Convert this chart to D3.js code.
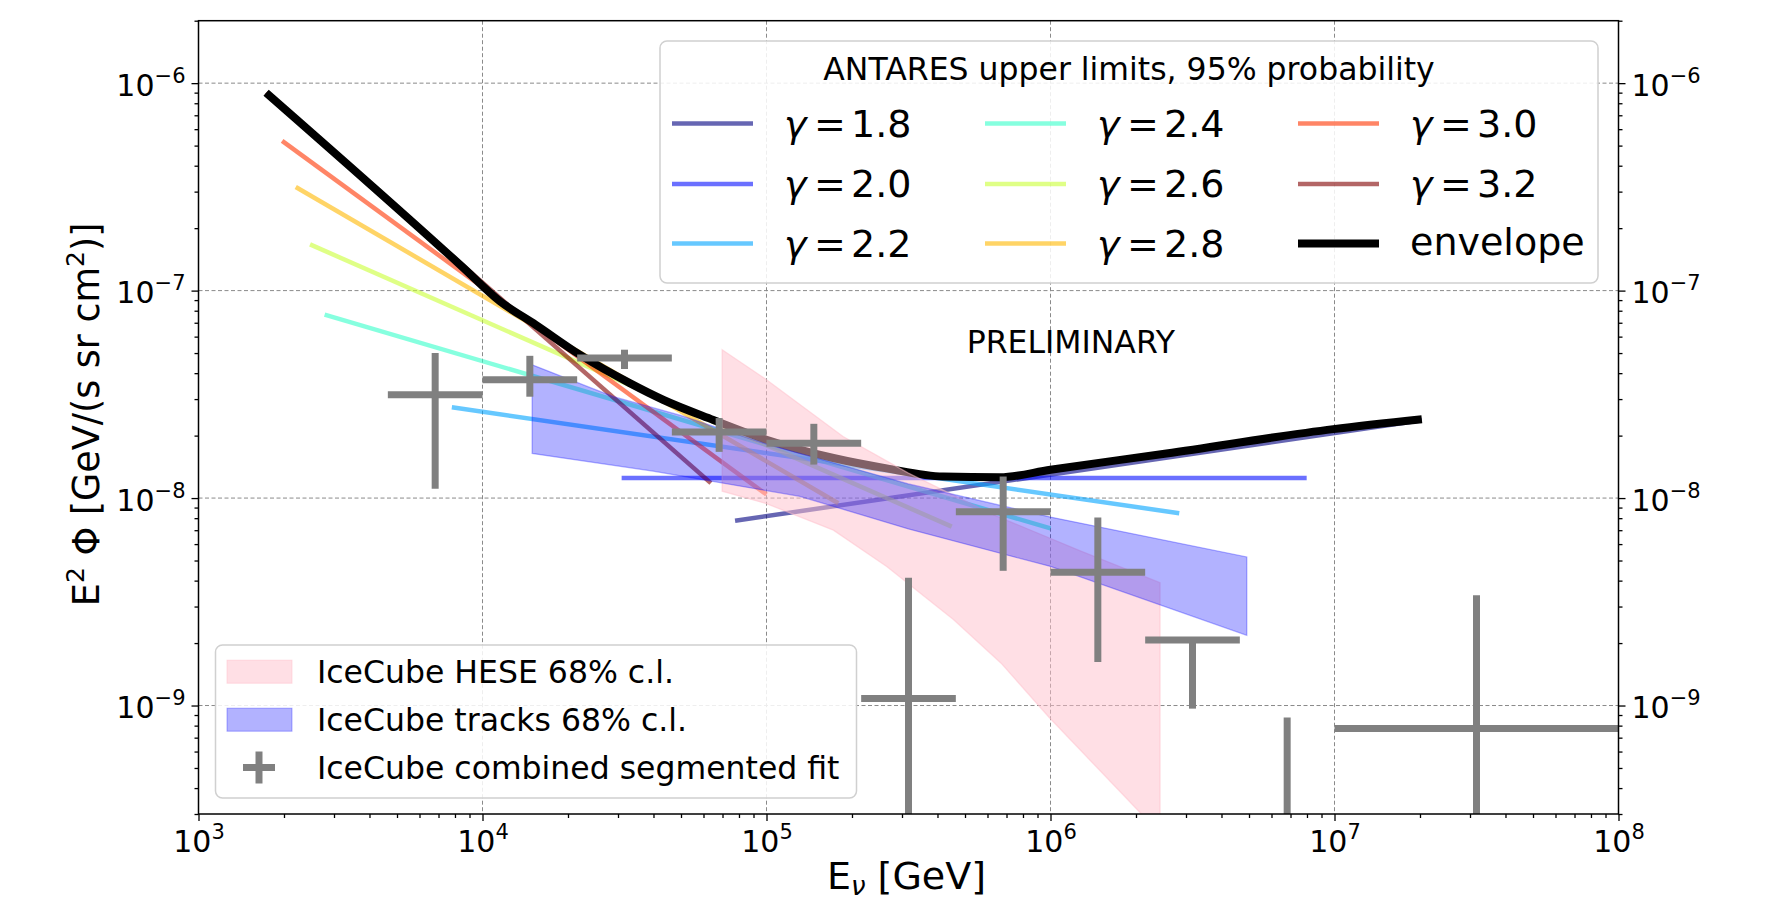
<!DOCTYPE html>
<html>
<head>
<meta charset="utf-8">
<script src="https://cdn.jsdelivr.net/npm/d3@7"></script>
<style>
  body { margin: 0; background: #fff; }
  svg { display: block; font-family: "DejaVu Sans", sans-serif; }
</style>
</head>
<body>
<div id="chart"></div>
<script>
// ANTARES upper limits, one straight segment per spectral index (ends)
const gammas = ["1.8", "2.0", "2.2", "2.4", "2.6", "2.8", "3.0", "3.2"];
const gammaEmin = [77500, 30900, 7800, 2780, 2470, 2200, 1970, 1730];
const gammaEmax = [2.03e7, 7.98e6, 2.84e6, 1.0e6, 4.49e5, 1.79e5, 1.0e5, 63700];
const gammaFluxMin = [7.78e-9, 1.25e-8, 2.74e-8, 7.66e-8, 1.67e-7, 3.16e-7, 5.27e-7, 9.0e-7];
const gammaFluxMax = [2.37e-8, 1.25e-8, 8.45e-9, 7.14e-9, 7.28e-9, 9.44e-9, 1.04e-8, 1.18e-8];
const gammaColors = ["#000080", "#0810ff", "#00a4ff", "#36ffc9", "#c9ff36", "#ffb800", "#ff3300", "#800000"];

// envelope
const envE = [1730, 8500, 11500, 15400, 22000, 33000, 43400, 65000, 1.0e5, 1.72e5, 2.65e5, 4.19e5, 6.64e5, 1.0e6, 2.56e6, 9.9e6, 2.03e7];
const envFlux = [9.0e-7, 1.3e-7, 8.9e-8, 6.84e-8, 4.91e-8, 3.58e-8, 2.97e-8, 2.38e-8, 1.91e-8, 1.56e-8, 1.39e-8, 1.27e-8, 1.26e-8, 1.37e-8, 1.64e-8, 2.15e-8, 2.40e-8];

// IceCube HESE 68% band
const heseUpE = [69800, 1.0e5, 1.86e5, 3.16e5, 6.31e5, 1.26e6, 2.43e6];
const heseUpF = [5.19e-8, 3.72e-8, 1.98e-8, 1.32e-8, 8.3e-9, 5.6e-9, 3.91e-9];
const heseLoE = [69800, 1.0e5, 1.72e5, 2.65e5, 4.55e5, 6.7e5, 9.86e5, 2.09e6, 2.43e6];
const heseLoF = [1.08e-8, 9.4e-9, 7.0e-9, 4.68e-9, 2.6e-9, 1.6e-9, 8.8e-10, 3.0e-10, 2.4e-10];

// IceCube tracks 68% band
const trkUpE = [14960, 28900, 49500, 1.0e5, 3.16e5, 1.0e6, 4.91e6];
const trkUpF = [4.39e-8, 3.08e-8, 2.51e-8, 1.82e-8, 1.17e-8, 8.1e-9, 5.2e-9];
const trkLoE = [14960, 39800, 1.31e5, 3.16e5, 1.0e6, 4.91e6];
const trkLoF = [1.64e-8, 1.35e-8, 1.02e-8, 7.1e-9, 4.68e-9, 2.18e-9];

// IceCube combined segmented fit
const segE = [6813, 14678, 31623, 68129, 146780, 316228, 681292, 1.4678e6, 3.1623e6, 6.813e6, 3.1623e7];
const segElo = [4642, 1e4, 21544, 46416, 1e5, 215443, 464159, 1e6, 2154435, 4641589, 1e7];
const segEhi = [1e4, 21544, 46416, 1e5, 215443, 464159, 1e6, 2154435, 4641589, 1e7, 1e8];
const segFlux = [3.15e-8, 3.72e-8, 4.73e-8, 2.08e-8, 1.84e-8, 1.08e-9, 8.59e-9, 4.39e-9, 2.07e-9, 2.0e-10, 7.75e-10];
const segFluxLo = [1.11e-8, 3.08e-8, 4.19e-8, 1.67e-8, 1.45e-8, 1e-11, 4.46e-9, 1.62e-9, 9.66e-10, 1e-11, 1e-11];
const segFluxHi = [5.0e-8, 4.85e-8, 5.19e-8, 2.43e-8, 2.28e-8, 4.13e-9, 1.27e-8, 8.07e-9, 2.12e-9, 8.76e-10, 3.4e-9];

const xMajor = [1e3, 1e4, 1e5, 1e6, 1e7, 1e8];
const xMajorExp = ["3", "4", "5", "6", "7", "8"];
const yMajor = [1e-9, 1e-8, 1e-7, 1e-6];
const yMajorExp = ["\u22129", "\u22128", "\u22127", "\u22126"];

const W = 1781, H = 900;
const L = 198.5, R = 1618.5, T = 20.7, B = 814;

const x = d3.scaleLog().domain([1e3, 1e8]).range([L, R]);
const y = d3.scaleLog().domain([3e-10, 2e-6]).range([B, T]);

const svg = d3.select("#chart").append("svg").attr("width", W).attr("height", H);

svg.append("clipPath").attr("id", "plotclip")
  .append("rect").attr("x", L).attr("y", T).attr("width", R - L).attr("height", B - T);

// grid
const grid = svg.append("g").attr("stroke", "#8a8a8a").attr("stroke-width", 1).attr("stroke-dasharray", "4,2.5");
grid.selectAll(".gx").data(xMajor.slice(1, -1)).enter().append("line")
  .attr("x1", d => x(d)).attr("x2", d => x(d)).attr("y1", T).attr("y2", B);
grid.selectAll(".gy").data(yMajor).enter().append("line")
  .attr("x1", L).attr("x2", R).attr("y1", d => y(d)).attr("y2", d => y(d));

const plot = svg.append("g").attr("clip-path", "url(#plotclip)");
const line = d3.line().x(d => x(d[0])).y(d => y(d[1]));

// gamma lines
gammas.forEach(function(g, i) {
  plot.append("path")
    .attr("d", line([[gammaEmin[i], gammaFluxMin[i]], [gammaEmax[i], gammaFluxMax[i]]]))
    .attr("fill", "none")
    .attr("stroke", gammaColors[i])
    .attr("stroke-opacity", 0.6)
    .attr("stroke-width", 4.5);
});

// envelope
plot.append("path")
  .attr("d", d3.line().x(d => x(d[0])).y(d => y(d[1])).curve(d3.curveMonotoneX)(envE.map((e, i) => [e, envFlux[i]])))
  .attr("fill", "none").attr("stroke", "#000").attr("stroke-width", 8)
  .attr("stroke-linejoin", "round");

// bands
function band(upE, upF, loE, loF) {
  const pts = upE.map((e, i) => [e, upF[i]]).concat(loE.map((e, i) => [e, loF[i]]).reverse());
  return line(pts) + "Z";
}
plot.append("path")
  .attr("d", band(heseUpE, heseUpF, heseLoE, heseLoF))
  .attr("fill", "#ffc0cb").attr("fill-opacity", 0.5)
  .attr("stroke", "#ffc0cb").attr("stroke-opacity", 0.5).attr("stroke-width", 1.3);
plot.append("path")
  .attr("d", band(trkUpE, trkUpF, trkLoE, trkLoF))
  .attr("fill", "#0000ff").attr("fill-opacity", 0.3)
  .attr("stroke", "#0000ff").attr("stroke-opacity", 0.3).attr("stroke-width", 1.3);

// segmented fit crosses
const seg = plot.append("g").attr("stroke", "#808080").attr("stroke-width", 7);
segE.forEach(function(e, i) {
  seg.append("line").attr("x1", x(segElo[i])).attr("x2", x(segEhi[i]))
    .attr("y1", y(segFlux[i])).attr("y2", y(segFlux[i]));
  seg.append("line").attr("x1", x(e)).attr("x2", x(e))
    .attr("y1", y(segFluxLo[i])).attr("y2", y(segFluxHi[i]));
});

// frame
svg.append("rect").attr("x", L).attr("y", T).attr("width", R - L).attr("height", B - T)
  .attr("fill", "none").attr("stroke", "#000").attr("stroke-width", 1.5);

// axes
const isMajor = v => Math.abs(Math.log10(v) - Math.round(Math.log10(v))) < 1e-6;
const xMinor = x.ticks().filter(v => !isMajor(v));
const yMinor = y.ticks().filter(v => !isMajor(v));

function styleAxis(g) {
  g.select(".domain").remove();
  g.selectAll(".tick line").attr("stroke", "#000").attr("stroke-width", 1.3);
}
function powText(t, exp) {
  t.text(null);
  t.append("tspan").text("10");
  t.append("tspan").attr("font-size", 21).attr("dy", -13).text(exp);
}

const gxMin = svg.append("g").attr("transform", `translate(0,${B})`)
  .call(d3.axisBottom(x).tickValues(xMinor).tickSize(4).tickFormat(""));
styleAxis(gxMin);
const gx = svg.append("g").attr("transform", `translate(0,${B})`)
  .call(d3.axisBottom(x).tickValues(xMajor).tickSize(7).tickFormat(""));
styleAxis(gx);
gx.selectAll(".tick text").each(function(d, i) {
  const t = d3.select(this).attr("y", 38).attr("dy", 0)
    .attr("font-size", 30).attr("fill", "#000").attr("font-family", "DejaVu Sans");
  powText(t, xMajorExp[i]);
});

[["left", L], ["right", R]].forEach(function(side) {
  const ax = side[0] === "left" ? d3.axisLeft : d3.axisRight;
  const gmin = svg.append("g").attr("transform", `translate(${side[1]},0)`)
    .call(ax(y).tickValues(yMinor).tickSize(4).tickFormat(""));
  styleAxis(gmin);
  const gmaj = svg.append("g").attr("transform", `translate(${side[1]},0)`)
    .call(ax(y).tickValues(yMajor).tickSize(7).tickFormat(""));
  styleAxis(gmaj);
  gmaj.selectAll(".tick text").each(function(d, i) {
    const t = d3.select(this).attr("dy", 0).attr("y", 12)
      .attr("x", side[0] === "left" ? -13 : 13)
      .attr("font-size", 30).attr("fill", "#000").attr("font-family", "DejaVu Sans");
    powText(t, yMajorExp[i]);
  });
});

// axis labels
const xl = svg.append("text").attr("x", (L + R) / 2 - 2).attr("y", 889)
  .attr("text-anchor", "middle").attr("font-size", 38);
xl.append("tspan").text("E");
xl.append("tspan").attr("font-size", 26).attr("font-style", "italic").attr("dy", 6).text("\u03bd");
xl.append("tspan").attr("dy", -6).text(" [GeV]");

const yl = svg.append("text").attr("transform", `translate(99,${(T + B) / 2 - 3}) rotate(-90)`)
  .attr("text-anchor", "middle").attr("font-size", 36.5);
yl.append("tspan").text("E");
yl.append("tspan").attr("font-size", 25).attr("dy", -15).text("2");
yl.append("tspan").attr("dy", 15).text(" \u03a6 [GeV/(s sr cm");
yl.append("tspan").attr("font-size", 25).attr("dy", -15).text("2");
yl.append("tspan").attr("dy", 15).text(")]");
yl.attr("xml:space", "preserve").style("white-space", "pre");

svg.append("text").attr("x", 966.7).attr("y", 353).attr("font-size", 31.5).text("PRELIMINARY");

// ANTARES legend
const lg1 = svg.append("g");
lg1.append("rect").attr("x", 660).attr("y", 41).attr("width", 938).attr("height", 242).attr("rx", 7)
  .attr("fill", "#fff").attr("fill-opacity", 0.85).attr("stroke", "#d0d0d0").attr("stroke-width", 1.5);
lg1.append("text").attr("x", 1129).attr("y", 80).attr("text-anchor", "middle").attr("font-size", 31.5)
  .text("ANTARES upper limits, 95% probability");
const colSw = [672, 985, 1298], colTx = [784, 1097, 1410], rowY = [123.5, 184, 243.5];
const lgItems = gammas.map((g, i) => ({label: g, color: gammaColors[i], op: 0.6, w: 4.5}))
  .concat([{label: "envelope", color: "#000", op: 1, w: 8}]);
lgItems.forEach(function(it, k) {
  const c = Math.floor(k / 3), r = k % 3;
  lg1.append("line").attr("x1", colSw[c]).attr("x2", colSw[c] + 81)
    .attr("y1", rowY[r]).attr("y2", rowY[r])
    .attr("stroke", it.color).attr("stroke-opacity", it.op).attr("stroke-width", it.w);
  if (it.label === "envelope") {
    lg1.append("text").attr("x", colTx[c]).attr("y", rowY[r] + 11).attr("font-size", 38).text("envelope");
  } else {
    lg1.append("text").attr("x", colTx[c]).attr("y", rowY[r] + 13).attr("font-size", 38)
      .attr("font-style", "italic").text("\u03b3");
    lg1.append("text").attr("x", colTx[c] + 30).attr("y", rowY[r] + 13).attr("font-size", 38).text("=");
    lg1.append("text").attr("x", colTx[c] + 67).attr("y", rowY[r] + 13).attr("font-size", 38).text(it.label);
  }
});

// IceCube legend
const lg2 = svg.append("g");
lg2.append("rect").attr("x", 215.5).attr("y", 645).attr("width", 641).attr("height", 153).attr("rx", 7)
  .attr("fill", "#fff").attr("fill-opacity", 0.85).attr("stroke", "#d0d0d0").attr("stroke-width", 1.5);
const lg2Y = [671.7, 719.7, 767.5];
lg2.append("rect").attr("x", 227).attr("y", lg2Y[0] - 11.5).attr("width", 65).attr("height", 23)
  .attr("fill", "#ffc0cb").attr("fill-opacity", 0.5).attr("stroke", "#ffc0cb").attr("stroke-opacity", 0.5);
lg2.append("rect").attr("x", 227).attr("y", lg2Y[1] - 11.5).attr("width", 65).attr("height", 23)
  .attr("fill", "#0000ff").attr("fill-opacity", 0.3).attr("stroke", "#0000ff").attr("stroke-opacity", 0.3);
lg2.append("line").attr("x1", 243).attr("x2", 275).attr("y1", lg2Y[2]).attr("y2", lg2Y[2])
  .attr("stroke", "#808080").attr("stroke-width", 7);
lg2.append("line").attr("x1", 259).attr("x2", 259).attr("y1", lg2Y[2] - 16).attr("y2", lg2Y[2] + 16)
  .attr("stroke", "#808080").attr("stroke-width", 7);
["IceCube HESE 68% c.l.", "IceCube tracks 68% c.l.", "IceCube combined segmented fit"].forEach(function(s, i) {
  lg2.append("text").attr("x", 317).attr("y", lg2Y[i] + 11).attr("font-size", 31.5).text(s);
});
</script>
</body>
</html>
